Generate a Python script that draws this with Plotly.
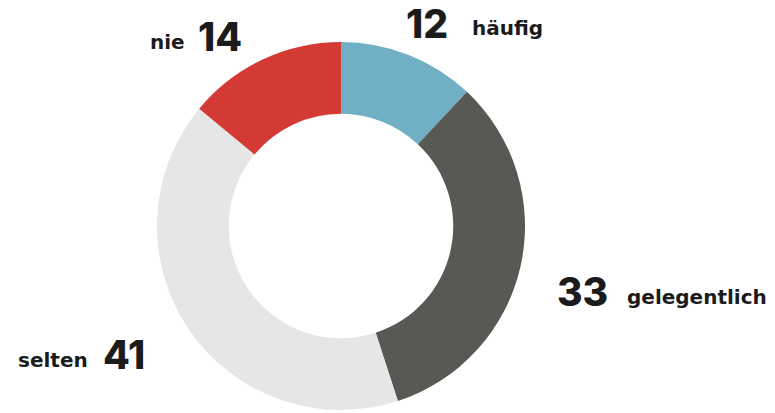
import plotly.graph_objects as go

labels = ["häufig", "gelegentlich", "selten", "nie"]
values = [12, 33, 41, 14]
colors = ["#70AFC4", "#585955", "#E6E6E6", "#D33A33"]

W, H = 775, 413
cx, cy, R = 341, 226, 184

fig = go.Figure(go.Pie(
    labels=labels, values=values, sort=False, direction="clockwise", rotation=0,
    hole=0.61, marker=dict(colors=colors, line=dict(width=0)),
    textinfo="none", hoverinfo="label+value", showlegend=False,
    domain=dict(x=[(cx - R) / W, (cx + R) / W], y=[(H - cy - R) / H, (H - cy + R) / H]),
))

num_font = dict(family="Inter", size=39, color="#1b1b1b", weight=800)
word_font = dict(family="DejaVu Sans", size=20, color="#1b1b1b", weight=700)

# (label index, number x-left, number box-middle y, word x-left, word box-middle y)
placements = [
    (0, 404, 23, 470, 28),
    (1, 555, 291, 625, 297),
    (2, 101, 354, 16, 360),
    (3, 196, 36, 148, 42),
]
ann = []
for i, nx, ny, wx, wy in placements:
    ann.append(dict(text=str(values[i]), x=nx / W, y=1 - ny / H, xref="paper", yref="paper",
                    xanchor="left", yanchor="middle", showarrow=False, font=num_font))
    ann.append(dict(text=labels[i], x=wx / W, y=1 - wy / H, xref="paper", yref="paper",
                    xanchor="left", yanchor="middle", showarrow=False, font=word_font))

fig.update_layout(width=W, height=H, margin=dict(l=0, r=0, t=0, b=0),
                  paper_bgcolor="white", plot_bgcolor="white", annotations=ann)
fig.write_html("out.html", config={"displayModeBar": False},
               post_script="document.body.style.margin='0';")
